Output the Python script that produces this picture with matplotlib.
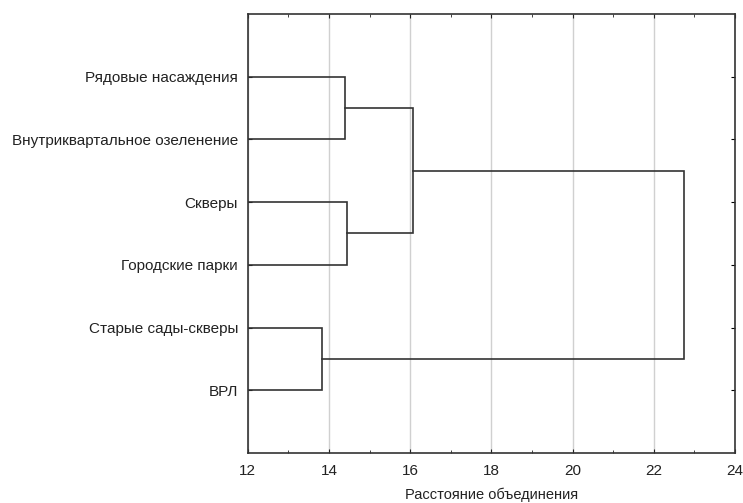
import matplotlib
matplotlib.use("Agg")
import matplotlib.pyplot as plt
from matplotlib.ticker import MultipleLocator

plt.rcParams['font.family'] = ['Liberation Sans', 'DejaVu Sans']

# листья дендрограммы сверху вниз
листья = ['Рядовые насаждения', 'Внутриквартальное озеленение',
          'Скверы', 'Городские парки', 'Старые сады-скверы', 'ВРЛ']
# объединения: (узел A, узел B, расстояние); узлы 0-5 листья, дальше кластеры 6, 7, ...
связи_a = [0, 2, 4, 6, 8]
связи_b = [1, 3, 5, 7, 9]
расстояния = [14.40, 14.45, 13.83, 16.08, 22.74]


def рисовать_дендрограмму(ax):
    поз = {i: (12.0, i + 1) for i in range(len(листья))}
    for k, (a, b, d) in enumerate(zip(связи_a, связи_b, расстояния)):
        xa, ya = поз[a]
        xb, yb = поз[b]
        ax.plot([xa, d, d, xb], [ya, ya, yb, yb], color='#333333', lw=1.2,
                solid_joinstyle='miter', zorder=3)
        поз[len(листья) + k] = (d, (ya + yb) / 2)


fig = plt.figure(figsize=(7.43, 5.03), dpi=100)
ax = fig.add_axes([0.3334, 0.0994, 0.6558, 0.8728])
рисовать_дендрограмму(ax)

ax.set_xlim(12, 24)
ax.set_ylim(7, 0)
ax.xaxis.set_major_locator(MultipleLocator(2))
ax.xaxis.set_minor_locator(MultipleLocator(1))
ax.set_yticks(range(1, len(листья) + 1))
ax.set_yticklabels(листья, fontsize=11, color='#222222')
ax.tick_params(axis='x', which='both', direction='in', top=True, labelsize=11,
               colors='#222222', length=3, pad=8)
ax.tick_params(axis='x', which='minor', length=2)
ax.tick_params(axis='y', direction='in', right=True, length=3, pad=7)
ax.grid(axis='x', which='major', color='#d0d0d0', lw=1, zorder=0)
for s in ax.spines.values():
    s.set_color('#333333')
    s.set_linewidth(1.2)
ax.set_xlabel('Расстояние объединения', fontsize=10.5, color='#222222', labelpad=7)

fig.savefig('out.png', dpi=100)
